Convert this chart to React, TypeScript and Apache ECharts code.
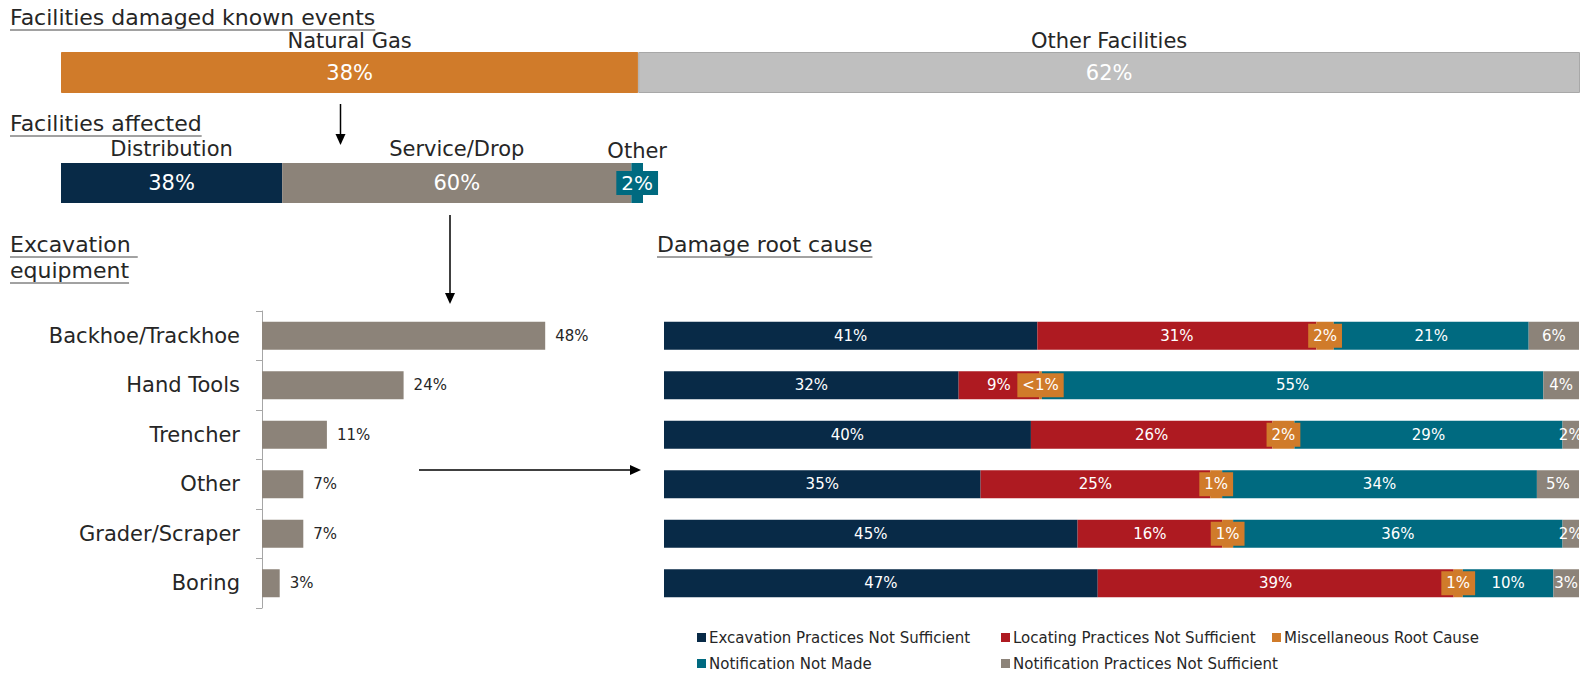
import React, { useEffect, useRef } from 'react';
import * as echarts from 'echarts';

// ---------- data ----------
const facilityNames = ['Natural Gas', 'Other Facilities'];
const facilityValues = [38, 62];

const affectedNames = ['Distribution', 'Service/Drop', 'Other'];
const affectedValues = [38, 60, 2];

const equipCategories = ['Backhoe/Trackhoe', 'Hand Tools', 'Trencher', 'Other', 'Grader/Scraper', 'Boring'];
const equipValues = [48, 24, 11, 7, 7, 3];

const causeNames = [
  'Excavation Practices Not Sufficient',
  'Locating Practices Not Sufficient',
  'Miscellaneous Root Cause',
  'Notification Not Made',
  'Notification Practices Not Sufficient',
];
const excavationPractices = [40.8, 32.2, 40.1, 34.6, 45.2, 47.4];
const locatingPractices = [30.5, 8.8, 26.4, 25.1, 15.8, 38.9];
const miscRootCause = [1.9, 0.3, 2.4, 1.3, 1.2, 1.0];
const notificationNotMade = [21.3, 54.8, 29.3, 34.4, 36.0, 9.9];
const notificationPractices = [5.5, 3.9, 1.8, 4.6, 1.8, 2.8];

// ---------- styles ----------
const FONT = '"DejaVu Sans", "Open Sans", sans-serif';
const NAVY = '#082A47';
const RED = '#AE1A21';
const ORANGE = '#D07B2A';
const TEAL = '#006A80';
const TAUPE = '#8C8379';
const LIGHTGRAY = '#BFBFBF';
const TXT = '#262626';

function measure(text: string, font: string): number {
  const c = document.createElement('canvas').getContext('2d');
  if (!c) return text.length * 10;
  c.font = font;
  return c.measureText(text).width;
}

const pct = (v: number) => (v < 0.5 ? '<1%' : Math.round(v) + '%');

export default function App() {
  const ref = useRef<HTMLDivElement>(null);

  useEffect(() => {
    if (!ref.current) return;
    const chart = echarts.init(ref.current, undefined, { renderer: 'svg' });

    const titleFont = `22px ${FONT}`;
    const titles = [
      { text: 'Facilities damaged known events', x: 10, y: 17, ul: 30 },
      { text: 'Facilities affected', x: 10, y: 123, ul: 136 },
      { text: 'Excavation ', x: 10, y: 244, ul: 257 },
      { text: 'equipment', x: 10, y: 270, ul: 283 },
      { text: 'Damage root cause', x: 657, y: 244, ul: 257 },
    ];
    const graphic: any[] = [];
    titles.forEach((t) => {
      graphic.push({
        type: 'text',
        x: t.x,
        y: t.y,
        style: { text: t.text, font: titleFont, fill: TXT, align: 'left', verticalAlign: 'middle', textAlign: 'left', textVerticalAlign: 'middle' },
      });
      graphic.push({
        type: 'line',
        shape: { x1: t.x, y1: t.ul, x2: t.x + measure(t.text, titleFont), y2: t.ul },
        style: { stroke: '#444', lineWidth: 1 },
      });
    });
    const arrow = (x1: number, y1: number, x2: number, y2: number) => {
      const vertical = x1 === x2;
      graphic.push({ type: 'line', shape: { x1, y1, x2: vertical ? x2 : x2 - 8, y2: vertical ? y2 - 8 : y2 }, style: { stroke: '#000', lineWidth: 1.5 } });
      const pts = vertical
        ? [[x2 - 5, y2 - 11], [x2 + 5, y2 - 11], [x2, y2]]
        : [[x2 - 11, y2 - 5], [x2 - 11, y2 + 5], [x2, y2]];
      graphic.push({ type: 'polygon', shape: { points: pts }, style: { fill: '#000' } });
    };
    arrow(340.5, 104, 340.5, 145);
    arrow(450, 215, 450, 304);
    arrow(419, 470, 641, 470);

    const topColors = [ORANGE, LIGHTGRAY];
    const topSeries = facilityNames.map((n, i) => ({
      type: 'bar',
      name: n,
      xAxisIndex: 0,
      yAxisIndex: 0,
      stack: 'top',
      barWidth: '100%',
      data: [facilityValues[i]],
      itemStyle: { color: topColors[i], borderColor: i === 1 ? '#A8A8A8' : topColors[i], borderWidth: 1 },
      label: {
        show: true,
        position: 'inside',
        offset: [0, -16],
        formatter: `{n|${n}}\n{v|${facilityValues[i]}%}`,
        rich: {
          n: { color: TXT, fontSize: 21, lineHeight: 32, fontFamily: FONT },
          v: { color: '#fff', fontSize: 21, lineHeight: 32, fontFamily: FONT },
        },
      },
    }));

    const affColors = [NAVY, TAUPE, TEAL];
    const affSeries = affectedNames.map((n, i) => ({
      type: 'bar',
      name: n,
      xAxisIndex: 1,
      yAxisIndex: 1,
      stack: 'aff',
      barWidth: '100%',
      data: [affectedValues[i]],
      itemStyle: { color: affColors[i] },
      label: {
        show: true,
        position: 'inside',
        offset: [0, -17],
        formatter: `{n|${n}}\n{v|${affectedValues[i]}%}`,
        rich: {
          n: { color: TXT, fontSize: 21, lineHeight: 34, fontFamily: FONT },
          v:
            i === 2
              ? { color: '#fff', fontSize: 20, lineHeight: 30, fontFamily: FONT, backgroundColor: TEAL, padding: [2, 5, 2, 5] }
              : { color: '#fff', fontSize: 21, lineHeight: 34, fontFamily: FONT },
        },
      },
    }));

    const equipSeries = {
      type: 'bar',
      name: 'equip',
      xAxisIndex: 2,
      yAxisIndex: 2,
      barWidth: 28,
      data: equipValues,
      itemStyle: { color: TAUPE },
      label: { show: true, position: 'right', distance: 10, formatter: (p: any) => p.value + '%', color: TXT, fontSize: 15, fontFamily: FONT },
    };

    const causeData = [excavationPractices, locatingPractices, miscRootCause, notificationNotMade, notificationPractices];
    const causeColors = [NAVY, RED, ORANGE, TEAL, TAUPE];
    const causeSeries = causeNames.map((n, i) => ({
      type: 'bar',
      name: n,
      xAxisIndex: 3,
      yAxisIndex: 3,
      stack: 'cause',
      barWidth: 28,
      data: causeData[i],
      itemStyle: { color: causeColors[i] },
      label: {
        show: true,
        position: 'inside',
        formatter: (p: any) => pct(p.value),
        color: '#fff',
        fontSize: 15,
        fontFamily: FONT,
        ...(i === 2 ? { backgroundColor: ORANGE, padding: [5, 5, 4, 5] } : {}),
      },
    }));

    const legendPos = [
      [697, 630],
      [1001, 630],
      [1272, 630],
      [697, 656],
      [1001, 656],
    ];
    const legends = causeNames.map((n, i) => ({
      data: [n],
      left: legendPos[i][0],
      top: legendPos[i][1],
      icon: 'rect',
      itemWidth: 9,
      itemHeight: 9,
      itemGap: 4,
      selectedMode: false,
      padding: 0,
      textStyle: { color: TXT, fontSize: 15, fontFamily: FONT, padding: [0, 0, 0, -2] },
    }));

    const hiddenValueAxis = (gi: number, max: number) => ({
      type: 'value',
      gridIndex: gi,
      min: 0,
      max,
      show: false,
    });

    chart.setOption({
      animation: false,
      textStyle: { fontFamily: FONT },
      grid: [
        { left: 61, top: 52, width: 1519, height: 41 },
        { left: 61, top: 163, width: 582, height: 40 },
        { left: 262, top: 311, width: 590, height: 297 },
        { left: 664, top: 311, width: 915, height: 297 },
      ],
      xAxis: [hiddenValueAxis(0, 100), hiddenValueAxis(1, 100), hiddenValueAxis(2, 100), hiddenValueAxis(3, 100)],
      yAxis: [
        { type: 'category', gridIndex: 0, data: ['Facilities'], show: false },
        { type: 'category', gridIndex: 1, data: ['Natural Gas'], show: false },
        {
          type: 'category',
          gridIndex: 2,
          data: equipCategories,
          inverse: true,
          axisLine: { show: true, lineStyle: { color: '#A6A6A6' } },
          axisTick: { show: true, length: 6, lineStyle: { color: '#A6A6A6' } },
          axisLabel: { color: TXT, fontSize: 21, margin: 22, fontFamily: FONT },
        },
        { type: 'category', gridIndex: 3, data: equipCategories, inverse: true, show: false },
      ],
      legend: legends,
      series: [...topSeries, ...affSeries, equipSeries, ...causeSeries],
      graphic,
    });

    return () => chart.dispose();
  }, []);

  return <div ref={ref} style={{ position: 'fixed', left: 0, top: 0, width: 1585, height: 674, background: '#fff' }} />;
}
